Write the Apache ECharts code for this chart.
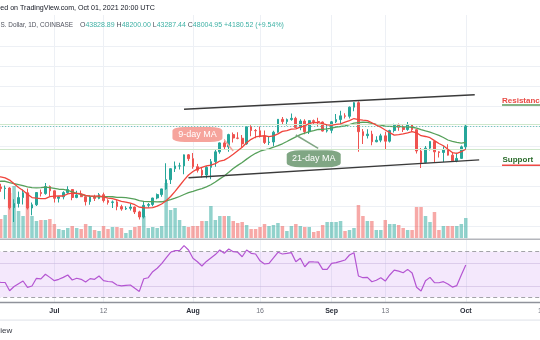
<!DOCTYPE html>
<html><head><meta charset="utf-8">
<script src="https://cdn.jsdelivr.net/npm/echarts@6/dist/echarts.min.js"></script>
<style>html,body{margin:0;padding:0;background:#fff}#c{width:540px;height:340px}</style>
</head><body><div id="c"></div>
<script>
// ---- data (daily candles from 2021-06-18) ----
const startDay = [2021, 5, 18];
const dayCount = 123;
const opens = [38100,35820,35480,35600,31680,32500,33680,34650,31600,32250,
34700,34480,35900,35040,33530,33830,34680,35300,33700,34220,
33860,32870,33800,33510,34260,33090,32720,32820,31880,31390,
31530,31790,30820,29800,32130,32300,33600,34280,35420,37270,
39460,40010,40020,42230,41470,39860,39150,38200,39740,40870,
42830,44620,43820,46280,45600,45550,44420,47830,47100,47040,
45950,44700,44800,46760,49340,48880,49290,49530,47700,48990,
46850,49070,48900,48800,46990,47130,48840,49280,50030,49940,
51770,52660,46860,46070,46370,44850,45160,46030,44960,47090,
48140,47760,47290,48300,47260,43000,40700,43570,44900,42830,
42700,43200,42170,41030,41520,43829];
const closes = [35820,35480,35600,31680,32500,33680,34650,31600,32250,34700,
34480,35900,35040,33530,33830,34680,35300,33700,34220,33860,
32870,33800,33510,34260,33090,32720,32820,31880,31390,31530,
31790,30820,29800,32130,32300,33600,34280,35420,37270,39460,
40010,40020,42230,41470,39860,39150,38200,39740,40870,42830,
44620,43820,46280,45600,45550,44420,47830,47100,47040,45950,
44700,44800,46760,49340,48880,49290,49530,47700,48990,46850,
49070,48900,48800,46990,47130,48840,49280,50030,49940,51770,
52660,46860,46070,46370,44850,45160,46030,44960,47090,48140,
47760,47290,48300,47260,43000,40700,43570,44900,42830,42700,
43200,42170,41030,41520,43830,48005];
const highs = [38200,36450,36100,35750,33350,34880,35300,35500,32700,34750,
35300,36600,36100,35100,33950,34950,35950,35350,35050,35100,
33900,34100,34250,34600,34680,33350,33100,33180,32250,31950,
32400,31900,31050,32850,32600,33650,34500,35450,40550,39540,
40900,40650,42300,42400,42600,40420,39780,39970,41400,43400,
44700,45300,46450,46700,46750,46200,47880,48150,47400,47900,
47100,46000,47050,49380,49800,49500,50500,49850,49350,49350,
49150,49300,49650,48900,48250,49000,50400,51050,50550,51900,
52780,52920,47400,47350,47050,45950,46450,46850,47250,48450,
48500,48150,48800,48350,47350,43600,44000,44950,45000,42950,
43950,44350,42800,42650,44100,48200];
const lows = [35150,34840,33350,31300,28800,31700,32300,31300,30150,32000,
33900,34250,34000,32700,32700,33330,34450,33150,33550,33780,
32100,32250,33000,33350,32700,32280,31600,31150,31050,31200,
31100,30400,29300,29500,31700,31950,33350,33850,35250,36400,
38800,39300,38350,41000,39450,38700,37700,37520,37350,39850,
42450,43250,42850,44700,45350,43800,44250,45950,45550,45700,
44400,44200,43950,46650,48300,48100,49050,47600,47150,46350,
46400,48400,47850,46900,46700,46550,48600,48400,49500,49500,
50950,42850,44400,45500,44150,44750,44750,43400,44700,46700,
47050,46800,47050,46850,42500,39600,40550,43100,40700,41700,
40800,42100,40900,40750,41420,43287];
const volumes = [20000,19000,23000,45000,52000,27000,22000,45000,22000,17000,
18000,18000,19000,14000,9000,8000,10000,12000,10000,9000,
14000,12000,8000,7000,12000,9000,11000,11000,10000,5000,
8000,11000,12000,22000,10000,11000,10000,12000,55000,28000,
30000,18000,12000,11000,12000,12000,17000,17000,32000,18000,
22000,22000,22000,17000,15000,16000,13000,9000,9000,11000,
14000,12000,13000,15000,12000,7000,12000,14000,12000,11000,
11000,6000,7000,13000,16000,16000,16000,17000,7000,8000,
10000,33000,22000,17000,17000,8000,8000,18000,14000,14000,
13000,10000,8000,8000,31000,31000,22000,16000,26000,8000,
12000,12000,12000,12000,14000,20000];
const ma9 = [37950,37816,37622,37192,36468,35707,35094,34344,33696,33571,
33460,33493,33867,33981,33998,34001,34412,34573,34520,34451,
34114,33977,33974,34022,33846,33559,33461,33201,32927,32778,
32554,32256,31760,31653,31607,31693,31960,32408,33046,33898,
34919,36054,37177,38196,38891,39432,39741,40016,40172,40486,
40997,41173,41708,42346,43057,43748,44647,45339,45807,45954,
46052,45888,46017,46438,46933,47096,47366,47439,47777,48016,
48490,48728,48668,48458,48218,48141,48317,48432,48776,49076,
49493,49278,49176,49091,48648,48190,47746,47192,46672,46170,
46270,46406,46620,46888,46648,46056,45901,45658,45068,44506,
44051,43370,42678,42513,42861,43354];
const ma21 = [36909,36950,36948,36680,36480,36295,36079,35829,35673,35621,
35665,35784,35672,35521,35354,35313,35136,34810,34528,34314,
34065,33969,33875,33811,33879,33889,33848,33716,33706,33672,
33533,33359,33069,32930,32871,32860,32841,32847,33017,33267,
33560,33900,34301,34680,34947,35236,35497,35826,36254,36799,
37422,37995,38731,39484,40123,40700,41378,41988,42541,42955,
43204,43432,43753,44092,44445,44894,45388,45840,46281,46566,
46863,47067,47304,47338,47410,47567,47799,47903,48038,48264,
48583,48686,48747,48728,48514,48337,48182,47964,47935,47895,
47938,47853,47825,47751,47561,47255,47004,46796,46453,46108,
45700,45200,44923,44706,44585,44735];
const rsi = [43.5,43.2,43,35.8,39.5,42,44.3,38.8,39.9,46.7,
46.2,50.2,47.5,44.6,45.8,47.5,49.6,45.2,46.7,45.8,
43.4,46.4,45.8,48.7,44.6,43.9,43.5,40.8,40,40.5,
40.8,37.9,35.2,46.3,47.2,52.5,55.5,59.5,64.5,69.5,
70.9,70.9,75.3,71.5,64.2,61.2,57.5,61.5,64.5,67.5,
71.5,68.6,72.4,70,69.5,65.6,71.5,68.6,68,62,
59.2,59.8,64.5,69.5,68,68.5,69.2,61.2,64.2,56.8,
61.2,61,60.9,54.5,54.5,59.8,60.5,61.5,62.7,67.1,
69.1,48.7,47.2,47.5,43.7,45,47.2,44.3,49.6,53.9,
53,51.6,54.5,51.3,38.8,35.5,44.6,47.5,42.8,42.8,
43.7,41.7,39,40.3,49.6,58.3];
const tickLabels = [
  {day: 13, text: 'Jul', month: true}, {day: 24, text: '12', month: false},
  {day: 44, text: 'Aug', month: true}, {day: 59, text: '16', month: false},
  {day: 75, text: 'Sep', month: true}, {day: 87, text: '13', month: false},
  {day: 105, text: 'Oct', month: true}, {day: 122, text: '18', month: false}
];
const levelLines = [48340, 43340];
const channelUpper = [[42, 51340], [107, 54260]];
const channelLower = [[43, 37650], [108, 41220]];
const maLabels = [
  {text: '9-day MA', at: [45, 46300], line: [[51, 45200], [53, 43000]]},
  {text: '21-day MA', at: [71, 41460], line: [[67, 46200], [72, 43540]]}
];

// ---- build ----
const days = [];
for (let i = 0; i < dayCount; i++) {
  const d = new Date(Date.UTC(startDay[0], startDay[1], startDay[2] + i));
  days.push(d.toISOString().slice(0, 10));
}
const tickMap = {};
tickLabels.forEach(t => { tickMap[t.day] = t; });
const isTick = (idx) => tickMap[idx] !== undefined;

const UP = '#26a69a', DOWN = '#ef5350';
const FF = '"Liberation Sans", Arial, sans-serif';
const GRIDC = '#edf0f5';

const candleData = opens.map((o, i) => [o, closes[i], lows[i], highs[i]]);
const volData = volumes.map((v, i) => ({
  value: v,
  itemStyle: {color: closes[i] >= opens[i] ? 'rgba(38,166,154,0.5)' : 'rgba(239,83,80,0.5)'}
}));
const lastClose = closes[closes.length - 1];

const gridBase = {left: -3.8, right: -1.8, containLabel: false, outerBoundsMode: 'none'};
const xBase = (idx, extra) => Object.assign({
  type: 'category', data: days, gridIndex: idx, boundaryGap: false,
  axisLine: {show: false}, axisTick: {show: false}, axisLabel: {show: false},
  splitLine: {show: false}
}, extra || {});

const chart = echarts.init(document.getElementById('c'), null, {renderer: 'canvas'});
chart.setOption({
  animation: false,
  backgroundColor: '#ffffff',
  grid: [
    Object.assign({top: 6, height: 240}, gridBase),
    Object.assign({top: 178, height: 60}, gridBase),
    Object.assign({top: 240.3, height: 61.6}, gridBase)
  ],
  xAxis: [
    xBase(0, {splitLine: {show: true, interval: (i) => isTick(i), lineStyle: {color: GRIDC, width: 1}}}),
    xBase(1),
    xBase(2, {
      axisLine: {show: true, lineStyle: {color: '#8f929a', width: 1.3}},
      splitLine: {show: true, interval: (i) => isTick(i), lineStyle: {color: GRIDC, width: 1}},
      axisLabel: {
        show: true, interval: (i) => isTick(i), margin: 5.5,
        formatter: (v, i) => { const t = tickMap[i]; return t ? (t.month ? '{m|' + t.text + '}' : '{d|' + t.text + '}') : ''; },
        rich: {
          m: {fontSize: 7, fontWeight: 'bold', color: '#2a2e39', fontFamily: FF},
          d: {fontSize: 7, color: '#70737d', fontFamily: FF}
        }
      }
    })
  ],
  yAxis: [
    {type: 'value', gridIndex: 0, min: 24000, max: 72000, interval: 4000,
     axisLine: {show: false}, axisTick: {show: false}, axisLabel: {show: false},
     splitLine: {show: true, lineStyle: {width: 1, color: ['rgba(0,0,0,0)', GRIDC, GRIDC, GRIDC, GRIDC, GRIDC, GRIDC, GRIDC, GRIDC, GRIDC, GRIDC, 'rgba(0,0,0,0)', 'rgba(0,0,0,0)']}}},
    {type: 'value', gridIndex: 1, min: 0, max: 60000, show: false, splitLine: {show: false}},
    {type: 'value', gridIndex: 2, min: 26, max: 80, show: false, splitLine: {show: false}}
  ],
  series: [
    {
      type: 'bar', xAxisIndex: 1, yAxisIndex: 1, data: volData, barWidth: 3.5, z: 1,
      silent: true
    },
    {
      type: 'candlestick', xAxisIndex: 0, yAxisIndex: 0, data: candleData, barWidth: 2.2, z: 3,
      silent: true,
      itemStyle: {color: UP, color0: DOWN, borderColor: UP, borderColor0: DOWN, borderWidth: 1},
      markLine: {
        silent: true, symbol: ['none', 'none'], label: {show: false}, animation: false,
        emphasis: {disabled: true},
        lineStyle: {type: 'solid'},
        data: [
          {yAxis: levelLines[0], lineStyle: {color: '#cfe7cb', width: 1.2, type: 'solid'}},
          {yAxis: levelLines[1], lineStyle: {color: '#cfe7cb', width: 1.2, type: 'solid'}},
          {yAxis: lastClose, lineStyle: {color: '#5bbdb3', width: 1, type: [1, 2]}},
          [{coord: [days[channelUpper[0][0]], channelUpper[0][1]], lineStyle: {color: '#3b3b3b', width: 1.4, type: 'solid'}},
           {coord: [days[channelUpper[1][0]], channelUpper[1][1]]}],
          [{coord: [days[channelLower[0][0]], channelLower[0][1]], lineStyle: {color: '#3b3b3b', width: 1.4, type: 'solid'}},
           {coord: [days[channelLower[1][0]], channelLower[1][1]]}]
        ]
      }
    },
    {
      type: 'line', xAxisIndex: 0, yAxisIndex: 0, data: ma21, showSymbol: false, z: 4, silent: true,
      lineStyle: {color: '#56a05a', width: 1.3},
      markLine: {
        silent: true, symbol: ['none', 'none'], label: {show: false}, animation: false,
        data: [[{coord: [days[maLabels[1].line[0][0]], maLabels[1].line[0][1]], lineStyle: {color: '#80a684', width: 1.5, type: 'solid'}},
                {coord: [days[maLabels[1].line[1][0]], maLabels[1].line[1][1]]}]]
      },
      markPoint: {
        silent: true, animation: false,
        data: [{coord: [days[maLabels[1].at[0]], maLabels[1].at[1]], symbol: 'roundRect', symbolSize: [54, 17],
                itemStyle: {color: '#80a684'},
                label: {show: true, position: 'inside', formatter: maLabels[1].text, color: '#ffffff', fontSize: 9, fontFamily: FF}}]
      }
    },
    {
      type: 'line', xAxisIndex: 0, yAxisIndex: 0, data: ma9, showSymbol: false, z: 5, silent: true,
      lineStyle: {color: '#f0443c', width: 1.3},
      markLine: {
        silent: true, symbol: ['none', 'none'], label: {show: false}, animation: false,
        data: [[{coord: [days[maLabels[0].line[0][0]], maLabels[0].line[0][1]], lineStyle: {color: '#f6a49c', width: 1.5, type: 'solid'}},
                {coord: [days[maLabels[0].line[1][0]], maLabels[0].line[1][1]]}]]
      },
      markPoint: {
        silent: true, animation: false,
        data: [{coord: [days[maLabels[0].at[0]], maLabels[0].at[1]], symbol: 'roundRect', symbolSize: [50, 15],
                itemStyle: {color: '#f6a49c'},
                label: {show: true, position: 'inside', formatter: maLabels[0].text, color: '#ffffff', fontSize: 9, fontFamily: FF}}]
      }
    },
    {
      type: 'line', xAxisIndex: 2, yAxisIndex: 2, data: rsi, showSymbol: false, z: 5, silent: true,
      lineStyle: {color: '#b455d2', width: 1.2},
      markArea: {
        silent: true, itemStyle: {color: 'rgba(170,80,230,0.13)'},
        data: [[{yAxis: 30}, {yAxis: 70}]]
      },
      markLine: {
        silent: true, symbol: ['none', 'none'], label: {show: false}, animation: false,
        data: [
          {yAxis: 70, lineStyle: {color: '#a3a3a8', width: 1, type: [4, 3]}},
          {yAxis: 30, lineStyle: {color: '#a3a3a8', width: 1, type: [4, 3]}},
          {yAxis: 60, lineStyle: {color: 'rgba(200,180,220,0.55)', width: 1, type: 'solid'}},
          {yAxis: 40, lineStyle: {color: 'rgba(200,180,220,0.55)', width: 1, type: 'solid'}}
        ]
      }
    }
  ],
  graphic: [
    {type: 'rect', z: 5, shape: {x: 0, y: 0, width: 540, height: 15}, style: {fill: '#ffffff'}},
    {type: 'rect', z: 5, shape: {x: 0, y: 238.4, width: 540, height: 1.6}, style: {fill: '#b4b6bc'}},
    {type: 'rect', z: 5, shape: {x: 0, y: 319.3, width: 540, height: 1.8}, style: {fill: '#eceef2'}},
    {type: 'text', z: 10, x: 0.3, y: 8.3, style: {text: 'ed on TradingView.com, Oct 01, 2021 20:00 UTC', fontSize: 7.1, fontFamily: FF, fill: '#131722', verticalAlign: 'middle'}},
    {type: 'text', z: 10, x: 0.5, y: 25, style: {text: 'S. Dollar, 1D, COINBASE', fontSize: 6.4, fontFamily: FF, fill: '#50535e', align: 'left', verticalAlign: 'middle'}},
    {type: 'text', z: 10, x: 80, y: 25, style: {
      text: '{l|O}{v|43828.89} {l|H}{v|48200.00} {l|L}{v|43287.44} {l|C}{v|48004.95} {v|+4180.52 (+9.54%)}',
      fontSize: 7, fontFamily: FF, verticalAlign: 'middle',
      rich: {l: {fill: '#50535e', fontSize: 7, fontFamily: FF}, v: {fill: '#3fb1a5', fontSize: 7, fontFamily: FF}}
    }},
    {type: 'text', z: 10, x: 502, y: 100.7, style: {text: 'Resistance', fontSize: 8, fontWeight: 'bold', fontFamily: FF, fill: '#e84a43', verticalAlign: 'middle'}},
    {type: 'rect', z: 10, shape: {x: 502, y: 104.2, width: 40, height: 1.6}, style: {fill: '#5d9a5d'}},
    {type: 'text', z: 10, x: 502.5, y: 160, style: {text: 'Support', fontSize: 8, fontWeight: 'bold', fontFamily: FF, fill: '#2b6b2b', verticalAlign: 'middle'}},
    {type: 'rect', z: 10, shape: {x: 502, y: 164.5, width: 40, height: 1.6}, style: {fill: '#ef4a45'}},
    {type: 'text', z: 10, x: 0.3, y: 330.7, style: {text: 'iew', fontSize: 8, fontFamily: FF, fill: '#333640', verticalAlign: 'middle'}}
  ]
});
</script>
</body></html>
